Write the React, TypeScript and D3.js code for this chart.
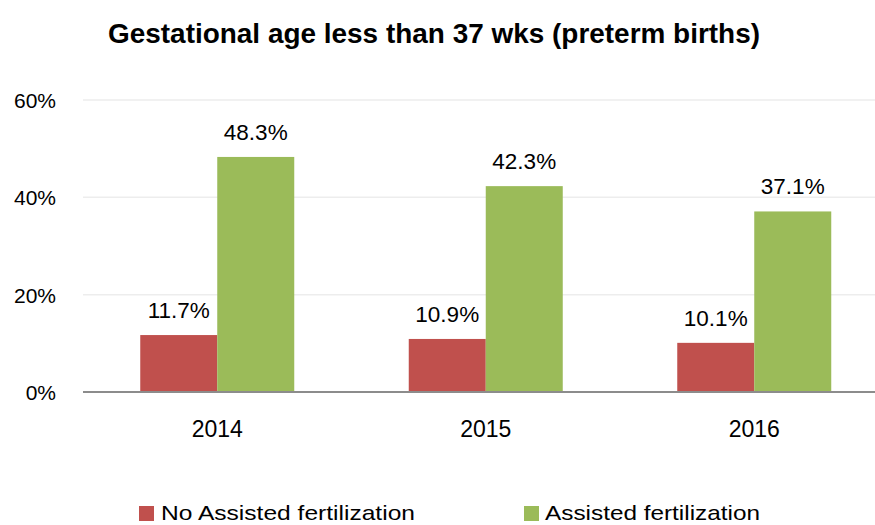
import React from "react";
import * as d3 from "d3";

const categories = ["2014", "2015", "2016"];
const seriesNames = ["No Assisted fertilization", "Assisted fertilization"];
const noAssisted = [11.7, 10.9, 10.1];
const assisted = [48.3, 42.3, 37.1];
const yTicks = [0, 20, 40, 60];
const colors = ["#C0504D", "#9BBB59"];

const W = 875;
const H = 525;
const FONT = "'Liberation Sans', Arial, sans-serif";

export default function App() {
  const x0 = 83;
  const x1 = 888.5;
  const y = d3.scaleLinear().domain([0, 60]).range([392, 100]);
  const xc = d3.scaleBand().domain(categories).range([x0, x1]).paddingInner(0).paddingOuter(0);
  const bw = 77;
  const series = [noAssisted, assisted];

  return (
    <svg width={W} height={H} style={{ position: "absolute", left: 0, top: 0 }} fontFamily={FONT}>
      <rect x={0} y={0} width={W} height={H} fill="#fff" />
      <text x={434} y={43} textAnchor="middle" fontWeight="bold" fontSize={27} textLength={652} lengthAdjust="spacingAndGlyphs" fill="#000">
        Gestational age less than 37 wks (preterm births)
      </text>
      {yTicks.map((t) => (
        <g key={t}>
          {t > 0 && <line x1={x0} x2={x1} y1={y(t)} y2={y(t)} stroke="#EDEDED" strokeWidth={1.5} />}
          <text x={56} y={y(t) + 8} textAnchor="end" fontSize={21} fill="#000">
            {t}%
          </text>
        </g>
      ))}
      {categories.map((c, i) => {
        const cx = (xc(c) as number) + xc.bandwidth() / 2;
        return (
          <g key={c}>
            {series.map((s, si) => {
              const bx = cx - bw + si * bw;
              const v = s[i];
              return (
                <g key={si}>
                  <rect x={bx} y={y(v)} width={bw} height={y(0) - y(v)} fill={colors[si]} />
                  <text x={bx + bw / 2} y={y(v) - 17} textAnchor="middle" fontSize={22.5} fill="#000">
                    {v.toFixed(1)}%
                  </text>
                </g>
              );
            })}
            <text x={cx} y={437} textAnchor="middle" fontSize={23} fill="#000">
              {c}
            </text>
          </g>
        );
      })}
      <line x1={x0} x2={x1} y1={y(0)} y2={y(0)} stroke="#8C8C8C" strokeWidth={2} />
      <rect x={139} y={506} width={15} height={15} fill={colors[0]} />
      <text x={161} y={520} fontSize={21} textLength={254} lengthAdjust="spacingAndGlyphs" fill="#000">
        {seriesNames[0]}
      </text>
      <rect x={524} y={506} width={15} height={15} fill={colors[1]} />
      <text x={545} y={520} fontSize={21} textLength={215} lengthAdjust="spacingAndGlyphs" fill="#000">
        {seriesNames[1]}
      </text>
    </svg>
  );
}
